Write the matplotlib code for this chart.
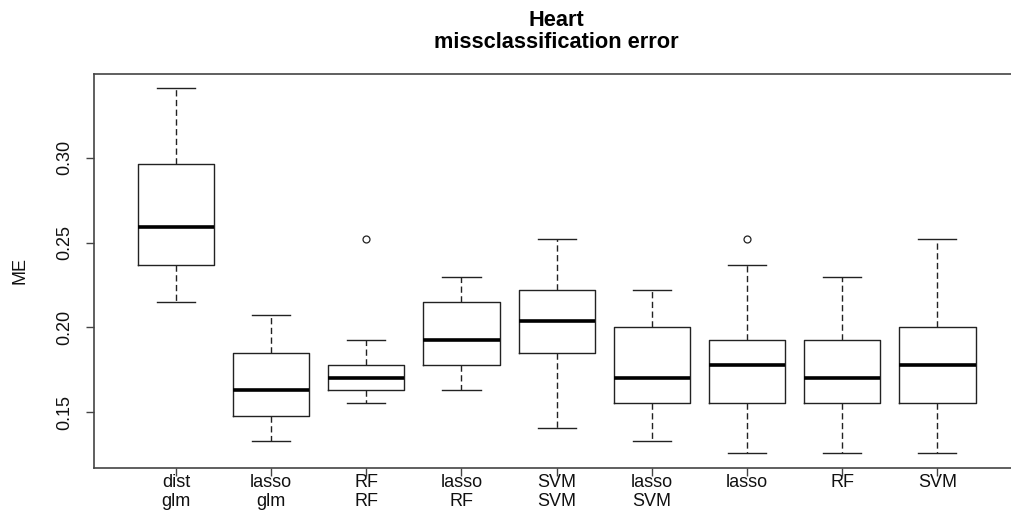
import matplotlib
matplotlib.use("Agg")
import matplotlib.pyplot as plt

plt.rcParams['font.family'] = ['Liberation Sans', 'DejaVu Sans']

# misclassification error on the Heart test set, per method
labels = ["dist\nglm", "lasso\nglm", "RF\nRF", "lasso\nRF", "SVM\nSVM",
          "lasso\nSVM", "lasso", "RF", "SVM"]
whislo = [0.2148, 0.1333, 0.1556, 0.1630, 0.1407, 0.1333, 0.1259, 0.1259, 0.1259]
q1 = [0.2370, 0.1481, 0.1630, 0.1778, 0.1852, 0.1556, 0.1556, 0.1556, 0.1556]
med = [0.2593, 0.1630, 0.1704, 0.1926, 0.2037, 0.1704, 0.1778, 0.1704, 0.1778]
q3 = [0.2963, 0.1852, 0.1778, 0.2148, 0.2222, 0.2000, 0.1926, 0.1926, 0.2000]
whishi = [0.3407, 0.2074, 0.1926, 0.2296, 0.2519, 0.2222, 0.2370, 0.2296, 0.2519]
fliers = [[], [], [0.2519], [], [], [], [0.2519], [], []]

stats = []
for i in range(len(labels)):
    stats.append(dict(label=labels[i], whislo=whislo[i], q1=q1[i], med=med[i],
                      q3=q3[i], whishi=whishi[i], fliers=fliers[i]))

fig = plt.figure(figsize=(10.11, 5.18), dpi=100)
ax = fig.add_axes([0.093, 0.0965, 0.9152, 0.761])

box_col = '#222222'
pos = list(range(1, len(labels) + 1))
ax.bxp(stats, positions=pos, widths=0.8, patch_artist=False,
       boxprops=dict(color=box_col, lw=1.0),
       medianprops=dict(color='black', lw=2.6, solid_capstyle='butt'),
       whiskerprops=dict(color=box_col, lw=1.0, linestyle=(0, (4.5, 2.5))),
       capprops=dict(color=box_col, lw=1.0),
       capwidths=0.4,
       flierprops=dict(marker='o', markerfacecolor='none', markeredgecolor=box_col,
                       markersize=5, markeredgewidth=0.9))

# R style axis ranges: 4% padding around the data
lo = min(whislo + [f for fl in fliers for f in fl])
hi = max(whishi + [f for fl in fliers for f in fl])
pad = (hi - lo) * 0.04
ax.set_ylim(lo - pad, hi + pad)
xpad = len(labels) * 0.04
ax.set_xlim(0.5 - xpad, len(labels) + 0.5 + xpad)

ax.set_yticks([0.15, 0.20, 0.25, 0.30])
ax.set_yticklabels(["0.15", "0.20", "0.25", "0.30"], rotation=90, va='center')
ax.set_xticks(pos)
ax.set_xticklabels(labels, linespacing=1.1)
ax.tick_params(axis='both', labelsize=13, length=6, width=1.0, color='#444444',
               labelcolor='#111111')
ax.tick_params(axis='x', pad=-1.5)
ax.tick_params(axis='y', pad=9)
for s in ax.spines.values():
    s.set_color('#444444')
    s.set_linewidth(1.2)

ax.set_ylabel("ME", fontsize=13, labelpad=20, color='#111111')
ax.set_title("Heart\nmissclassification error", fontsize=15.7, fontweight='bold',
             linespacing=1.05, pad=18.5)

fig.savefig("out.png", dpi=100, facecolor='white')
